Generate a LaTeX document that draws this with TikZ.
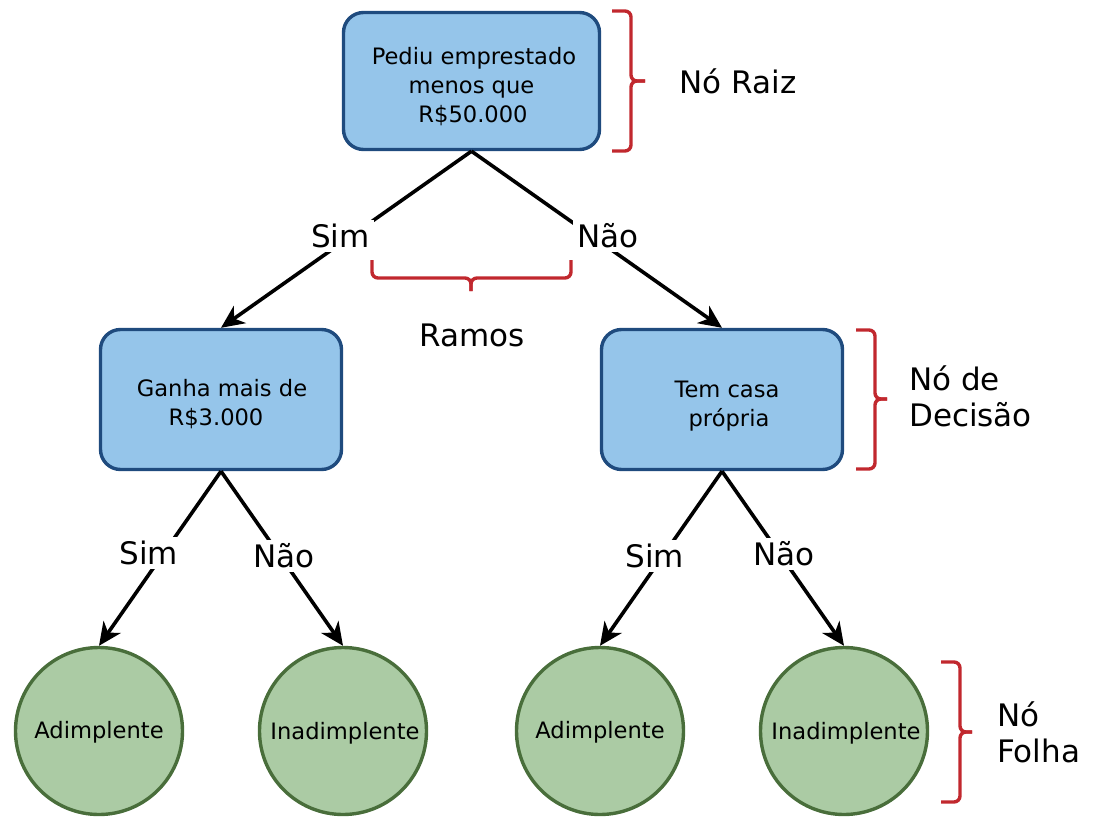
\documentclass[tikz,border=0pt]{standalone}
\usepackage{fontspec}
\setmainfont{DejaVu Sans}
\usetikzlibrary{arrows.meta}
\definecolor{bfill}{HTML}{95C5EA}
\definecolor{bdraw}{HTML}{1F4B7E}
\definecolor{gfill}{HTML}{ABCBA4}
\definecolor{gdraw}{HTML}{496E3B}
\definecolor{bred}{HTML}{C1282E}
\tikzset{
  dbox/.style={rectangle, rounded corners=20pt, draw=bdraw, fill=bfill, line width=3.4pt,
    align=center, inner sep=0pt, font=\fontsize{22.6}{29}\selectfont},
  leaf/.style={circle, draw=gdraw, fill=gfill, line width=3.4pt, minimum size=167pt,
    inner sep=0pt, font=\fontsize{22.6}{29}\selectfont},
  conn/.style={line width=3.6pt, -{Stealth[length=23pt,width=21pt,inset=7pt]}},
  lbl/.style={fill=white, inner sep=4pt, font=\fontsize{31}{36}\selectfont},
  txt/.style={font=\fontsize{31}{36}\selectfont, align=left, inner sep=0pt},
  brc/.style={draw=bred, line width=3.4pt, rounded corners=6pt}
}
\begin{document}
\begin{tikzpicture}[x=1pt,y=-1pt]
\useasboundingbox (0,0) rectangle (1103,832);
\node[dbox, minimum width=256pt, minimum height=137pt] (root) at (471.5,81) {\rule{0pt}{29pt}\hspace*{5pt}Pediu emprestado\\menos que\\\hspace*{3pt}R\$50.000};
\node[dbox, minimum width=241pt, minimum height=140pt] (d1) at (221,399.5) {\rule{0pt}{27pt}\hspace*{2pt}Ganha mais de\\R\$3.000\rule{10pt}{0pt}};
\node[dbox, minimum width=241pt, minimum height=140pt] (d2) at (722,399.5) {\rule{0pt}{29pt}\hspace*{10pt}Tem casa\\\hspace*{14pt}própria};
\node[leaf] (l1) at (99,731) {\rule{0pt}{20pt}Adimplente};
\node[leaf] (l2) at (343,731) {\rule{0pt}{21pt}\hspace*{4pt}Inadimplente};
\node[leaf] (l3) at (600,731) {\rule{0pt}{20pt}Adimplente};
\node[leaf] (l4) at (844,731) {\rule{0pt}{21pt}\hspace*{4pt}Inadimplente};

\draw[conn] (root.south) -- (d1.north) node[lbl, pos=0.48, xshift=-11pt] (s1) {Sim};
\draw[conn] (root.south) -- (d2.north) node[lbl, pos=0.48, xshift=16pt] (n1) {Não};
\draw[conn] (d1.south) -- (l1.north) node[lbl, pos=0.47, xshift=-15pt] (s2) {Sim};
\draw[conn] (d1.south) -- (l2.north) node[lbl, pos=0.486, xshift=4pt] (n2) {Não};
\draw[conn] (d2.south) -- (l3.north) node[lbl, pos=0.486, xshift=-8pt] (s3) {Sim};
\draw[conn] (d2.south) -- (l4.north) node[lbl, pos=0.474, xshift=4pt] (n3) {Não};

% braces
\draw[brc] (612,11) -- (631,11) -- (631,81) -- (645,81);
\draw[brc] (645,81) -- (631,81) -- (631,151) -- (612,151);
\draw[brc] (372,260) -- (372,278) -- (471,278) -- (471,291);
\draw[brc] (471,291) -- (471,278) -- (571,278) -- (571,260);
\draw[brc] (856,330) -- (875,330) -- (875,399) -- (887,399);
\draw[brc] (887,399) -- (875,399) -- (875,469) -- (856,469);
\draw[brc] (941,662) -- (960,662) -- (960,732) -- (972,732);
\draw[brc] (972,732) -- (960,732) -- (960,802) -- (941,802);

\node[txt] (t1) at (738,81) {Nó Raiz};
\node[txt] (t2) at (472,335) {Ramos};
\node[txt, anchor=west] (t3) at (909,396) {Nó de\\Decisão};
\node[txt, anchor=west] (t4) at (997,732) {Nó\\Folha};
\end{tikzpicture}
\end{document}
